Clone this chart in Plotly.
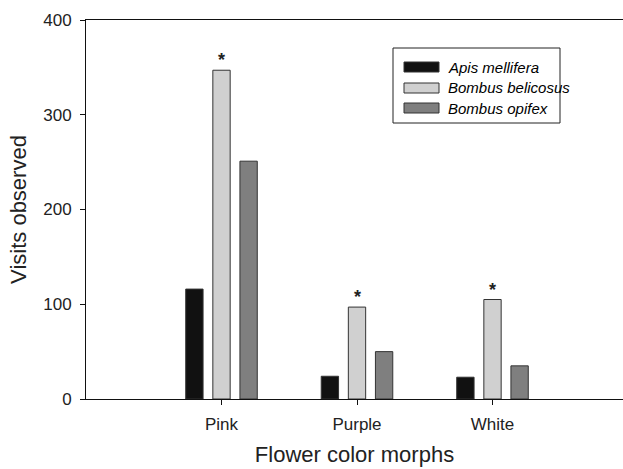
import plotly.graph_objects as go

categories = ["Pink", "Purple", "White"]
series_names = ["Apis mellifera", "Bombus belicosus", "Bombus opifex"]
apis = [116, 24, 23]
belicosus = [347, 97, 105]
opifex = [251, 50, 35]
significance = ["*", "*", "*"]  # marks above Bombus belicosus bars
colors = ["#111111", "#d0d0d0", "#7f7f7f"]
y_ticks = [0, 100, 200, 300, 400]

W, H = 623, 469
L, R, T, B = 86, 0, 20, 70
PW, PH = W - L - R, H - T - B

def px(x):
    return (x - L) / PW

def py(y):
    return (H - B - y) / PH

FONT = "Liberation Sans, Arial, sans-serif"

fig = go.Figure()
for name, vals, col in zip(series_names, [apis, belicosus, opifex], colors):
    fig.add_trace(go.Bar(
        x=categories, y=vals, name=name,
        marker=dict(color=col, line=dict(color="#333333", width=1)),
        showlegend=False,
    ))

for cat, v, s in zip(categories, belicosus, significance):
    fig.add_annotation(x=cat, y=v, text="<b>" + s + "</b>", showarrow=False, yanchor="bottom",
                       yshift=-2, font=dict(family=FONT, size=18, color="#222"))

# legend drawn as box
shapes = [dict(type="rect", xref="paper", yref="paper",
               x0=px(393), x1=px(560), y0=py(123), y1=py(48),
               line=dict(color="#222", width=1), fillcolor="white")]
row_y = [67, 88, 108]
for name, col, ry in zip(series_names, colors, row_y):
    shapes.append(dict(type="rect", xref="paper", yref="paper",
                       x0=px(404), x1=px(439), y0=py(ry + 5), y1=py(ry - 5),
                       line=dict(color="#333", width=1), fillcolor=col))
    fig.add_annotation(xref="paper", yref="paper", x=px(446), y=py(ry),
                       xanchor="left", yanchor="middle", showarrow=False,
                       text="<i>" + name + "</i>",
                       font=dict(family=FONT, size=15, color="black"))

fig.update_layout(
    width=W, height=H,
    margin=dict(l=L, r=R, t=T, b=B, autoexpand=False),
    plot_bgcolor="white", paper_bgcolor="white",
    barmode="group", bargap=0.4, bargroupgap=0.36,
    shapes=shapes,
    font=dict(family=FONT, color="#222"),
)
fig.update_xaxes(
    type="category", range=[-1, -1 + PW / 135.5],
    showline=True, linecolor="#111", linewidth=1, mirror=True,
    ticks="outside", ticklen=5, tickcolor="#111", ticklabelstandoff=5,
    showgrid=False, zeroline=False,
    tickfont=dict(family=FONT, size=17),
    title=dict(text="Flower color morphs", font=dict(family=FONT, size=22), standoff=13),
)
fig.update_yaxes(
    range=[0, 400], tickvals=y_ticks,
    showline=True, linecolor="#111", linewidth=1,
    ticks="outside", ticklen=5, tickcolor="#111", ticklabelstandoff=5,
    showgrid=False, zeroline=False,
    tickfont=dict(family=FONT, size=17),
    title=dict(text="Visits observed", font=dict(family=FONT, size=22), standoff=10),
)

fig.write_html("out.html")
